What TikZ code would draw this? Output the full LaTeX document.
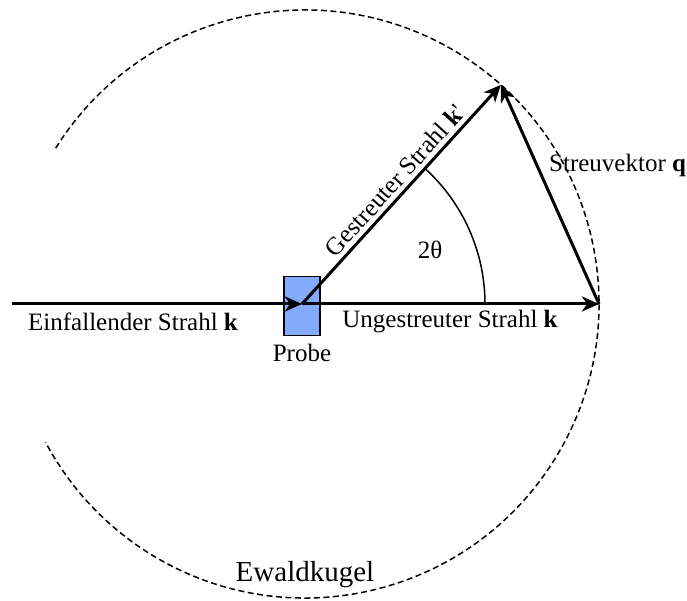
\documentclass[tikz,border=0pt]{standalone}
\usepackage{fontspec}
\setmainfont{Liberation Serif}
\usetikzlibrary{arrows.meta}
\definecolor{probeblue}{RGB}{130,170,255}
\begin{document}
\begin{tikzpicture}[x=1pt,y=1pt,
  beam/.style={line width=3pt,-{Stealth[length=17pt,width=15pt,inset=5pt]}},
  ewald/.style={line width=1.5pt,dash pattern=on 6pt off 3.5pt},
  lbl/.style={font=\fontsize{25}{29}\selectfont,inner sep=0pt},
  probebox/.style={draw=black,line width=1.5pt,fill=probeblue,minimum width=36pt,minimum height=59pt,inner sep=0pt}
]
\useasboundingbox (0,0) rectangle (687,601);
\coordinate (C) at (305,297);
\coordinate (O) at (302,297);
\coordinate (S) at (12,297);
\coordinate (Q1) at (599,297);
\coordinate (Q2) at (500.9,516.2);
% Ewald sphere
\draw[ewald] (C) ++(148:294) arc[start angle=148,end angle=-152,radius=294];
% sample
\node[probebox] (P) at (302,295) {};
% angle arc
\draw[line width=1.5pt] (O) ++(0:183) arc[start angle=0,end angle=47.8,radius=183];
% beams
\draw[beam] (S) -- (O);
\draw[beam] (O) -- (Q1);
\draw[beam] (O) -- node[lbl,pos=0.52,sloped,anchor=south,inner sep=4pt] (gl) {Gestreuter Strahl \textbf{k}\textquotesingle} (Q2);
\draw[beam] (Q1) -- (Q2);
% labels
\node[lbl] (el) at (133,279) {Einfallender Strahl \textbf{k}};
\node[lbl] (pl) at (302,248) {Probe};
\node[lbl] (ul) at (450,279) {Ungestreuter Strahl \textbf{k}};
\node[lbl] (tl) at (430,351) {2θ};
\node[lbl,anchor=west] (sl) at (549,436) {Streuvektor \textbf{q}};
\node[lbl,font=\fontsize{29}{33}\selectfont] (ew) at (305,26) {Ewaldkugel};
\end{tikzpicture}
\end{document}
